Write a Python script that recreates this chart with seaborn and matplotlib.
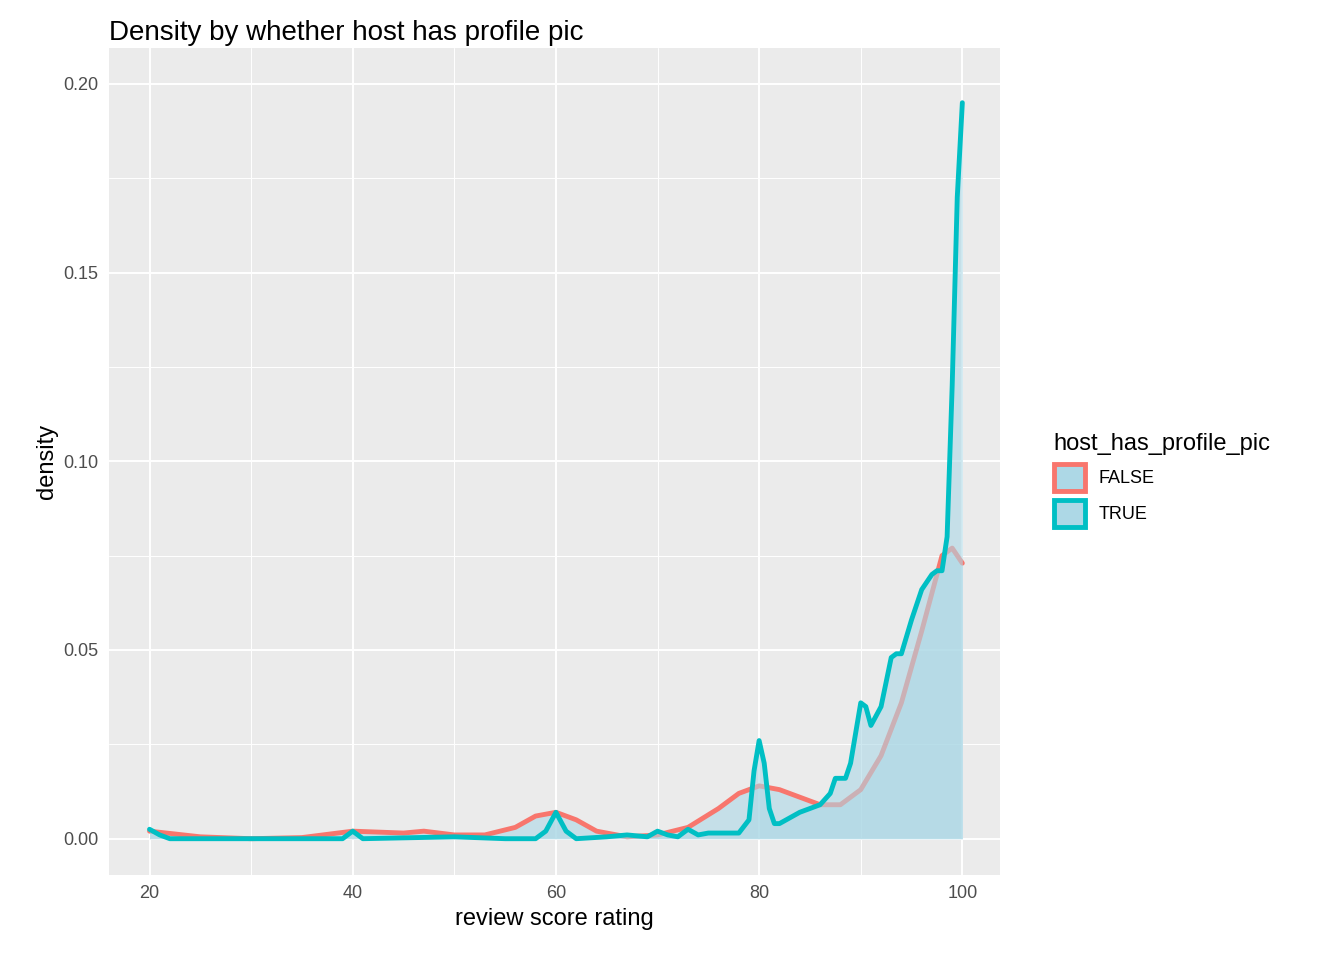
import matplotlib
matplotlib.use("Agg")
import matplotlib.pyplot as plt
import seaborn as sns
import pandas as pd
from matplotlib.patches import Patch
from matplotlib.ticker import MultipleLocator

true_x = [20, 21, 22, 30, 39, 40, 41, 50, 55, 58, 59, 60, 61, 62, 65, 67, 69, 70, 71, 72, 73, 74, 75, 78, 79, 79.5, 80, 80.5, 81, 81.5, 82, 84, 86, 87, 87.5, 88.5, 89, 90, 90.5, 91, 92, 93, 93.5, 94, 95, 96, 97, 97.5, 98, 98.5, 99, 99.5, 100]
true_y = [0.0025, 0.001, 0.0, 0.0, 0.0, 0.002, 0.0, 0.0005, 0.0, 0.0, 0.002, 0.007, 0.002, 0.0, 0.0005, 0.001, 0.0005, 0.002, 0.001, 0.0005, 0.0025, 0.001, 0.0015, 0.0015, 0.005, 0.018, 0.026, 0.02, 0.008, 0.004, 0.004, 0.007, 0.009, 0.012, 0.016, 0.016, 0.02, 0.036, 0.035, 0.03, 0.035, 0.048, 0.049, 0.049, 0.058, 0.066, 0.07, 0.071, 0.071, 0.08, 0.12, 0.17, 0.195]
false_x = [20, 25, 30, 35, 40, 45, 47, 50, 53, 56, 58, 60, 62, 64, 67, 70, 73, 76, 78, 80, 82, 84, 86, 88, 90, 92, 94, 96, 98, 99, 100]
false_y = [0.002, 0.0005, 0.0, 0.0003, 0.002, 0.0015, 0.002, 0.001, 0.001, 0.003, 0.006, 0.007, 0.005, 0.002, 0.0005, 0.001, 0.003, 0.008, 0.012, 0.014, 0.013, 0.011, 0.009, 0.009, 0.013, 0.022, 0.036, 0.055, 0.075, 0.077, 0.073]

RED = "#F8766D"
TEAL = "#00BFC4"
FILL = "lightblue"

sns.set_theme(style="darkgrid", rc={"axes.facecolor": "#EBEBEB", "grid.color": "white",
                                    "text.color": "black", "axes.labelcolor": "black"})
plt.rcParams["font.family"] = ["Liberation Sans", "DejaVu Sans"]

fig, ax = plt.subplots(figsize=(13.44, 9.6), dpi=100)
fig.subplots_adjust(left=0.081, right=0.744, bottom=0.089, top=0.95)

dff = pd.DataFrame({"x": false_x, "y": false_y})
dft = pd.DataFrame({"x": true_x, "y": true_y})

ax.fill_between(dff["x"], 0, dff["y"], color=FILL, alpha=0.6, lw=0, zorder=2)
sns.lineplot(data=dff, x="x", y="y", color=RED, lw=3.5, ax=ax, zorder=3)
ax.fill_between(dft["x"], 0, dft["y"], color=FILL, alpha=0.6, lw=0, zorder=4)
sns.lineplot(data=dft, x="x", y="y", color=TEAL, lw=3.5, ax=ax, zorder=5)

ax.set_xlim(16.0, 103.7)
ax.set_ylim(-0.0095, 0.2095)
ax.xaxis.set_major_locator(MultipleLocator(20))
ax.xaxis.set_minor_locator(MultipleLocator(10))
ax.yaxis.set_major_locator(MultipleLocator(0.05))
ax.yaxis.set_minor_locator(MultipleLocator(0.025))
ax.set_yticks([0, 0.05, 0.1, 0.15, 0.2])
ax.set_yticklabels(["0.00", "0.05", "0.10", "0.15", "0.20"])
ax.grid(which="major", color="white", lw=1.4)
ax.grid(which="minor", color="white", lw=0.7)
ax.tick_params(axis="both", which="major", length=4, color="#333333", labelsize=13, labelcolor="#4D4D4D")
ax.tick_params(which="minor", length=0)
for s in ax.spines.values():
    s.set_visible(False)
ax.set_xlabel("review score rating", fontsize=17)
ax.set_ylabel("density", fontsize=17)
ax.set_title("Density by whether host has profile pic", fontsize=20, loc="left", x=0.0, color="black")

handles = [Patch(facecolor=FILL, edgecolor=RED, lw=3.5, label="FALSE"),
           Patch(facecolor=FILL, edgecolor=TEAL, lw=3.5, label="TRUE")]
leg = fig.legend(handles=handles, title="host_has_profile_pic", loc="center left",
                 bbox_to_anchor=(0.772, 0.5), frameon=False, fontsize=13,
                 title_fontsize=17, handlelength=1.7, handleheight=1.9)
leg._legend_box.align = "left"

fig.savefig("out.png", dpi=100)
